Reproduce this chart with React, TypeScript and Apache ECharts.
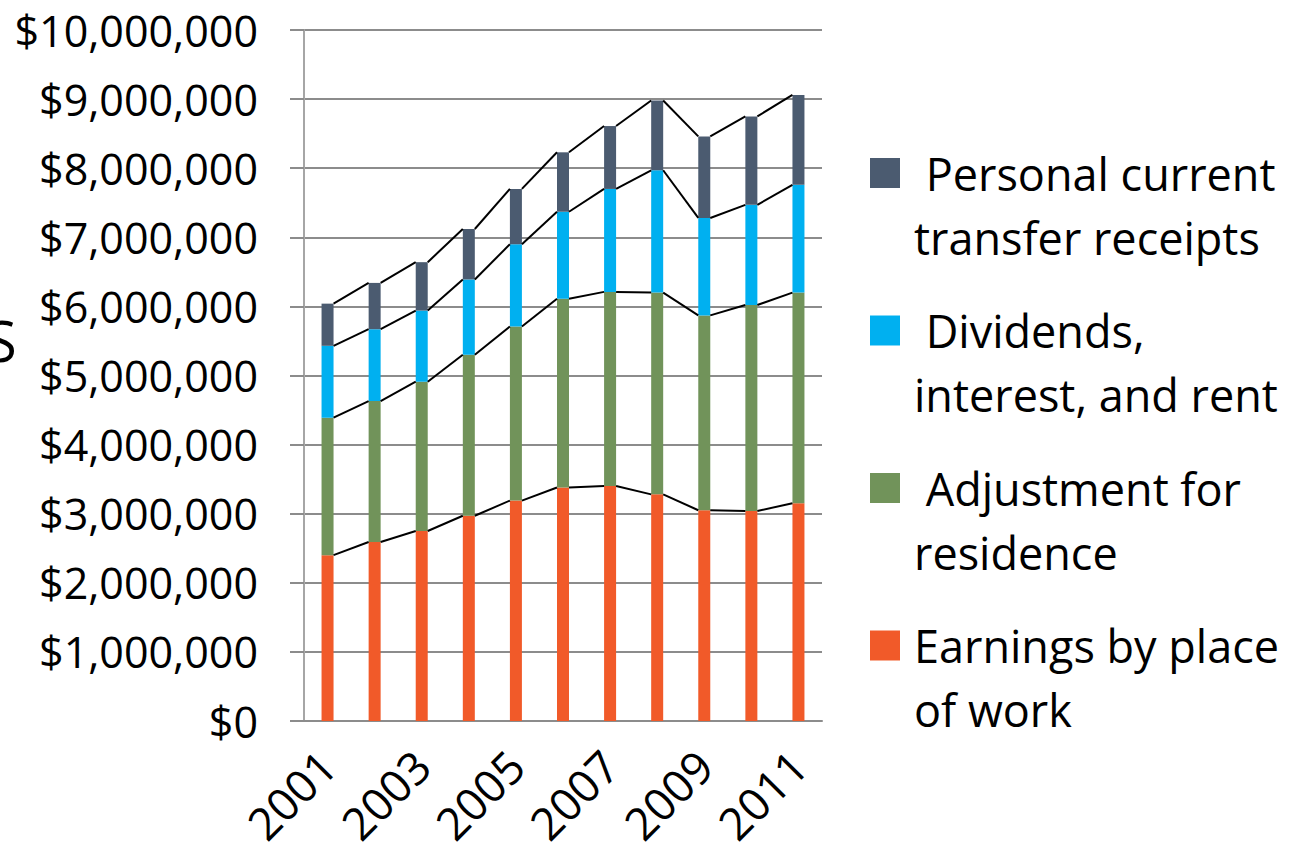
import React, { useEffect, useRef } from "react";
import * as echarts from "echarts";

const years = ["2001", "2002", "2003", "2004", "2005", "2006", "2007", "2008", "2009", "2010", "2011"];
const earnings = [2400000, 2590000, 2750000, 2970000, 3190000, 3380000, 3400000, 3280000, 3050000, 3040000, 3150000];
const adjustment = [1990000, 2040000, 2160000, 2330000, 2520000, 2730000, 2810000, 2920000, 2820000, 2980000, 3050000];
const dividends = [1040000, 1040000, 1030000, 1090000, 1190000, 1260000, 1490000, 1770000, 1410000, 1450000, 1560000];
const transfers = [610000, 670000, 700000, 730000, 800000, 860000, 910000, 1010000, 1180000, 1280000, 1300000];

const seriesNames = ["Earnings by place of work", "Adjustment for residence", "Dividends, interest, and rent", "Personal current transfer receipts"];
const legendLabels = ["Earnings by place\nof work", " Adjustment for\nresidence", " Dividends,\ninterest, and rent", " Personal current\ntransfer receipts"];
const colors = ["#F15A29", "#71935A", "#00B0F0", "#4B5B70"];
const yTicks = { min: 0, max: 10000000, interval: 1000000 };

export default function App() {
  const ref = useRef<HTMLDivElement>(null);
  useEffect(() => {
    document.body.style.margin = "0";
    const chart = echarts.init(ref.current!, null, { renderer: "svg" });
    const segs = [earnings, adjustment, dividends, transfers];
    const cum: number[][] = [];
    segs.forEach((s, k) => {
      cum.push(s.map((v, i) => v + (k > 0 ? cum[k - 1][i] : 0)));
    });
    const lineData: number[][] = [];
    cum.forEach((c) => {
      for (let i = 0; i < c.length - 1; i++) lineData.push([i, c[i], c[i + 1]]);
    });
    const font = "'Open Sans', sans-serif";
    const barW = 12;
    chart.setOption({
      animation: false,
      textStyle: { fontFamily: font },
      grid: { left: 304, right: 478, top: 30, bottom: 131, containLabel: false, outerBoundsMode: "none" },
      xAxis: {
        type: "category",
        data: years,
        axisLine: { lineStyle: { color: "#8C8C8C", width: 2 } },
        axisTick: { show: false },
        axisLabel: { interval: 1, rotate: 45, fontSize: 45, color: "#000", margin: 37, fontFamily: font },
      },
      yAxis: {
        type: "value",
        min: yTicks.min,
        max: yTicks.max,
        interval: yTicks.interval,
        axisLine: { show: true, lineStyle: { color: "#A6A6A6", width: 2 } },
        axisTick: { show: true, length: 14, lineStyle: { color: "#8C8C8C", width: 2 } },
        splitLine: { lineStyle: { color: "#8C8C8C", width: 2 } },
        axisLabel: {
          fontSize: 43,
          color: "#000",
          margin: 46,
          fontFamily: font,
          formatter: (v: number) => "$" + v.toLocaleString("en-US"),
        },
      },
      legend: {
        orient: "vertical",
        left: 870,
        top: 77,
        padding: 0,
        itemGap: -34.5,
        itemWidth: 30,
        itemHeight: 30,
        icon: "rect",
        data: [seriesNames[3], seriesNames[2], seriesNames[1], seriesNames[0]],
        formatter: (name: string) =>
          " \n" +
          legendLabels[seriesNames.indexOf(name)]
            .split("\n")
            .map((l) => "{g| }" + l)
            .join("\n"),
        textStyle: {
          fontSize: 45,
          lineHeight: 64,
          color: "#000",
          fontFamily: font,
          rich: { g: { width: 9, fontSize: 45, lineHeight: 64 } },
        },
      },
      graphic: [
        { type: "text", left: -14, top: 312, style: { text: "S", fontSize: 56, fontFamily: font, fill: "#000" } },
      ],
      series: [
        ...segs.map((s, k) => ({
          name: seriesNames[k],
          type: "bar",
          stack: "total",
          barWidth: barW,
          data: s,
          itemStyle: { color: colors[k] },
        })),
        {
          type: "custom",
          silent: true,
          z: 10,
          data: lineData,
          encode: { x: 0, y: 1 },
          renderItem: (params: any, api: any) => {
            const i = api.value(0);
            const p1 = api.coord([i, api.value(1)]);
            const p2 = api.coord([i + 1, api.value(2)]);
            return {
              type: "line",
              shape: { x1: p1[0] + barW / 2, y1: p1[1], x2: p2[0] - barW / 2, y2: p2[1] },
              style: { stroke: "#000", lineWidth: 2 },
            };
          },
        },
      ],
    });
    return () => chart.dispose();
  }, []);
  return <div ref={ref} style={{ width: 1300, height: 852 }} />;
}
